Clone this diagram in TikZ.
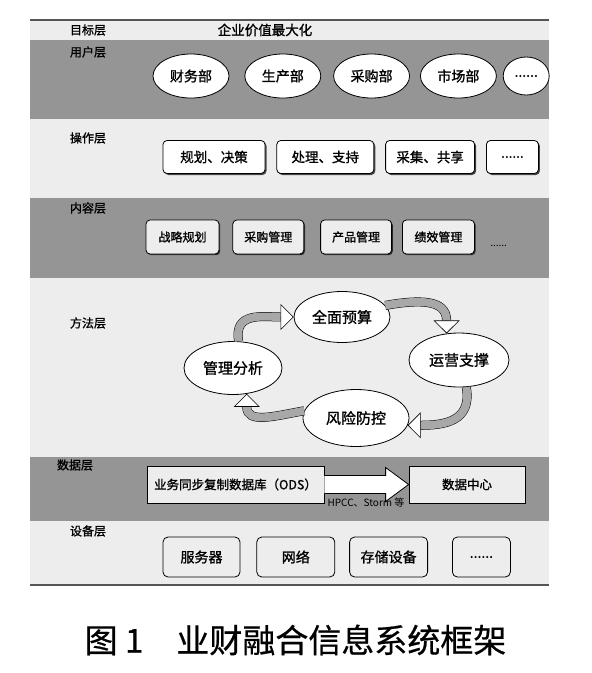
\documentclass[tikz,border=0pt]{standalone}
\usepackage{fontspec}
\setmainfont{Noto Sans CJK SC}
\newfontfamily\heiti{Noto Sans CJK SC}[FakeBold=1.2]
\newfontfamily\capfont{Noto Sans CJK SC}[FakeBold=0.6]
\usetikzlibrary{arrows.meta,calc,positioning,shapes.geometric,shadows}
\definecolor{Band}{HTML}{EDEDED}
\definecolor{DarkBand}{HTML}{959595}
\definecolor{Ribbon}{HTML}{A8A8A8}
\definecolor{Rule}{HTML}{555555}
\tikzset{
  layer/.style={font=\heiti\fontsize{12}{14}\selectfont},
  dept/.style={
    ellipse, draw, thick, fill=white, inner sep=0pt,
    minimum width=76pt, minimum height=44pt, font=\heiti\fontsize{14}{16}\selectfont
  },
  opbox/.style={
    rounded corners=4pt, draw, thick, fill=white, inner sep=0pt,
    minimum height=33pt, font=\heiti\fontsize{13.5}{15}\selectfont,
    drop shadow={shadow xshift=1.5pt, shadow yshift=-1.5pt, fill=black, opacity=0.7}
  },
  ctbox/.style={
    rounded corners=4pt, draw, thick, fill=Band, inner sep=0pt,
    minimum height=34pt, font=\heiti\fontsize{12}{14}\selectfont,
    drop shadow={shadow xshift=1.2pt, shadow yshift=-1.2pt, fill=black, opacity=0.7}
  },
  method/.style={
    ellipse, draw, thick, fill=white, inner sep=0pt,
    font=\heiti\fontsize{15}{17}\selectfont
  },
  databox/.style={
    draw, thick, fill=Band, inner sep=0pt,
    minimum height=37pt, font=\heiti\fontsize{12.5}{14}\selectfont
  },
  devbox/.style={
    rounded corners=5pt, draw, thick, fill=Band, inner sep=0pt,
    minimum height=40pt, font=\heiti\fontsize{14}{16}\selectfont
  },
  cycle/.style={
    draw=black, line width=0.5pt, double=Ribbon, double distance=8pt,
    -{Triangle[length=13pt,width=26pt,fill=white,line width=0.6pt]}
  }
}

\begin{document}
\begin{tikzpicture}[x=1pt,y=-1pt]
  \useasboundingbox (0,0) rectangle (592,673);
  % layer bands
  \fill[Band] (30,20) rectangle (549,40);
  \fill[DarkBand] (30,40) rectangle (549,119);
  \fill[Band] (30,119) rectangle (549,198);
  \fill[DarkBand] (30,198) rectangle (549,278);
  \fill[Band] (30,278) rectangle (549,457);
  \fill[DarkBand] (30,457) rectangle (549,521);
  \fill[Band] (30,521) rectangle (549,585);
  \draw[Rule, line width=1.5pt] (30,20) -- (549,20);
  \draw[Rule, line width=1.2pt] (30,585) -- (549,585);

  % layer names
  \node[layer] (lgoal) at (88,30) {目标层};
  \node[layer] (luser) at (88,52) {用户层};
  \node[layer] (lop) at (88,138) {操作层};
  \node[layer] (lcont) at (88,208) {内容层};
  \node[layer] (lmeth) at (88,323) {方法层};
  \node[layer] (ldata) at (75,465) {数据层};
  \node[layer] (ldev) at (88,531) {设备层};

  \node[font=\heiti\fontsize{13.5}{15}\selectfont] (goal) at (265,30) {企业价值最大化};

  % user layer
  \node[dept] (fin) at (191,76) {财务部};
  \node[dept, right=15pt of fin] (prod) {生产部};
  \node[dept, right=12pt of prod] (buy) {采购部};
  \node[dept, right=10pt of buy] (mkt) {市场部};
  \node[dept, right=6pt of mkt, minimum width=46pt, minimum height=38pt] (umore) {......};

  % operation layer
  \node[opbox, minimum width=102pt] (plan) at (214,157) {规划、决策};
  \node[opbox, minimum width=97pt, right=11pt of plan] (proc) {处理、支持};
  \node[opbox, minimum width=89pt, right=11pt of proc] (share) {采集、共享};
  \node[opbox, minimum width=52pt, right=11pt of share] (omore) {......};

  % content layer
  \node[ctbox, minimum width=73pt] (strat) at (182.5,237) {战略规划};
  \node[ctbox, minimum width=71pt, right=13pt of strat] (pur) {采购管理};
  \node[ctbox, minimum width=71pt, right=16pt of pur] (pm) {产品管理};
  \node[ctbox, minimum width=72pt, right=10pt of pm] (perf) {绩效管理};
  \node[font=\fontsize{10}{12}\selectfont, right=12pt of perf, yshift=-9pt] (cmore) {......};

  % method layer
  \node[method, minimum width=96pt, minimum height=51pt] (budget) at (342,317) {全面预算};
  \node[method, minimum width=100pt, minimum height=54pt] (ops) at (459,360) {运营支撑};
  \node[method, minimum width=98pt, minimum height=53pt] (anal) at (233,368) {管理分析};
  \node[method, minimum width=106pt, minimum height=57pt] (risk) at (356,418) {风险防控};
  \draw[cycle] (anal.78) to[out=100,in=180,looseness=1.3] (budget.west);
  \draw[cycle] (budget.15) to[out=10,in=90,looseness=1.3] (ops.115);
  \draw[cycle] (ops.-75) to[out=-80,in=0,looseness=1.3] (risk.-8);
  \draw[cycle] (risk.172) to[out=190,in=-90,looseness=1.3] (anal.-62);

  % data layer
  \node[databox, minimum width=177pt] (ods) at (235.5,484.5) {业务同步复制数据库（ODS）};
  \node[font=\fontsize{10}{12}\selectfont] (hpcc) at (366,503) {HPCC、Storm 等};
  \node[databox, minimum width=116pt] (dc) at (467,484.5) {数据中心};
  \draw[thick, fill=white]
    ($(ods.east)+(0,-9)$) -- ($(dc.west)+(-23,-9)$) -- ($(dc.west)+(-23,-17)$)
    -- (dc.west) -- ($(dc.west)+(-23,17)$) -- ($(dc.west)+(-23,9)$)
    -- ($(ods.east)+(0,9)$);

  % device layer
  \node[devbox, minimum width=77pt] (srv) at (201.5,557) {服务器};
  \node[devbox, minimum width=78pt, right=16pt of srv] (net) {网络};
  \node[devbox, minimum width=78pt, right=14pt of net] (store) {存储设备};
  \node[devbox, minimum width=58pt, right=24pt of store] (dmore) {......};

  % caption
  \node[font=\capfont\fontsize{33}{36}\selectfont] (cap) at (295.5,640) {图 1\hspace{1em}业财融合信息系统框架};
\end{tikzpicture}
\end{document}
